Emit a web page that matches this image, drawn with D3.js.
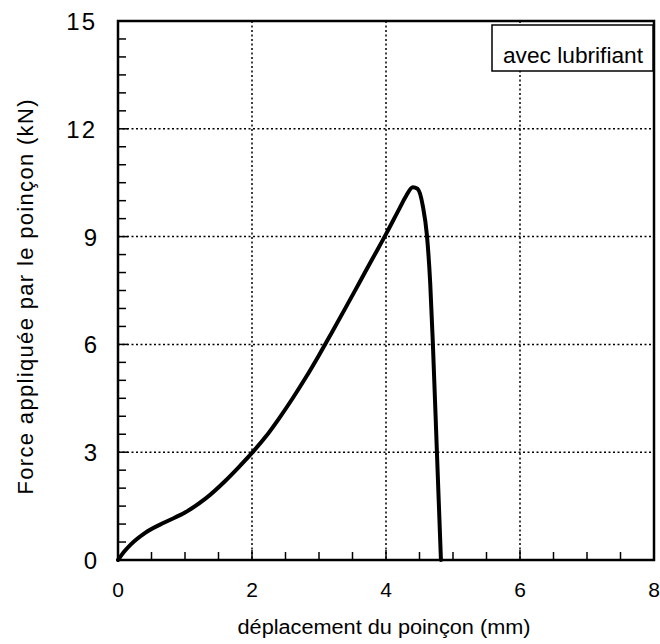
<!DOCTYPE html>
<html>
<head>
<meta charset="utf-8">
<script src="https://cdn.jsdelivr.net/npm/d3@7/dist/d3.min.js"></script>
<style>
html,body{margin:0;padding:0;background:#fff;}
svg{display:block;font-family:"Liberation Sans",Arial,Helvetica,sans-serif;}
</style>
</head>
<body>
<svg id="chart" width="660" height="644"></svg>
<script>
const dispX = [0, 0.1, 0.2, 0.4, 0.7, 1.0, 1.3, 1.6, 1.8, 2.0, 2.2, 2.4, 2.6, 2.8, 3.0, 3.2, 3.4, 3.6, 3.8, 4.0, 4.2, 4.3, 4.4, 4.47, 4.55, 4.61, 4.66, 4.70, 4.76, 4.82];
const forceY = [0, 0.25, 0.45, 0.75, 1.05, 1.32, 1.7, 2.2, 2.58, 2.98, 3.42, 3.93, 4.48, 5.07, 5.70, 6.36, 7.03, 7.71, 8.39, 9.07, 9.78, 10.13, 10.37, 10.33, 9.85, 9.05, 7.7, 6.0, 3.0, 0];
const xTicks = [0, 2, 4, 6, 8];
const yTicks = [0, 3, 6, 9, 12, 15];
const xMinor = [0.5, 1, 1.5, 2.5, 3, 3.5, 4.5, 5, 5.5, 6.5, 7, 7.5];
const yMinor = [0.5, 1, 1.5, 2, 2.5, 3.5, 4, 4.5, 5, 5.5, 6.5, 7, 7.5, 8, 8.5, 9.5, 10, 10.5, 11, 11.5, 12.5, 13, 13.5, 14, 14.5];
const xTitle = "déplacement du poinçon (mm)";
const yTitle = "Force appliquée par le poinçon (kN)";
const legendText = "avec  lubrifiant";

const svg = d3.select("#chart");
const L = 118, R = 654, T = 21, B = 560;
const x = d3.scaleLinear().domain([0, 8]).range([L, R]);
const y = d3.scaleLinear().domain([0, 15]).range([B, T]);

// gridlines
const g = svg.append("g");
g.selectAll(".gx").data(xTicks.filter(d => d > 0 && d < 8)).enter().append("line")
  .attr("x1", d => x(d)).attr("x2", d => x(d)).attr("y1", T).attr("y2", B)
  .attr("stroke", "#000").attr("stroke-width", 1.5).attr("stroke-dasharray", "2,2.5");
g.selectAll(".gy").data(yTicks.filter(d => d > 0 && d < 15)).enter().append("line")
  .attr("y1", d => y(d)).attr("y2", d => y(d)).attr("x1", L).attr("x2", R)
  .attr("stroke", "#000").attr("stroke-width", 1.5).attr("stroke-dasharray", "2,2.5");

// minor ticks
g.selectAll(".mx").data(xMinor).enter().append("line")
  .attr("x1", d => x(d)).attr("x2", d => x(d)).attr("y1", B).attr("y2", B - 8)
  .attr("stroke", "#000").attr("stroke-width", 1.5);
g.selectAll(".my").data(yMinor).enter().append("line")
  .attr("y1", d => y(d)).attr("y2", d => y(d)).attr("x1", L).attr("x2", L + 8)
  .attr("stroke", "#000").attr("stroke-width", 1.5);
// major ticks
g.selectAll(".Mx").data(xTicks.filter(d => d > 0 && d < 8)).enter().append("line")
  .attr("x1", d => x(d)).attr("x2", d => x(d)).attr("y1", B).attr("y2", B - 10)
  .attr("stroke", "#000").attr("stroke-width", 1.5);
g.selectAll(".My").data(yTicks.filter(d => d > 0 && d < 15)).enter().append("line")
  .attr("y1", d => y(d)).attr("y2", d => y(d)).attr("x1", L).attr("x2", L + 10)
  .attr("stroke", "#000").attr("stroke-width", 1.5);

// frame
svg.append("rect").attr("x", L).attr("y", T).attr("width", R - L).attr("height", B - T)
  .attr("fill", "none").attr("stroke", "#000").attr("stroke-width", 2.5);

// tick labels
svg.selectAll(".xl").data(xTicks).enter().append("text")
  .attr("x", d => x(d)).attr("y", 597).attr("text-anchor", "middle")
  .attr("font-size", 21).text(d => d);
svg.selectAll(".yl").data(yTicks).enter().append("text")
  .attr("x", 97).attr("y", d => y(d) + 9).attr("text-anchor", "end")
  .attr("font-size", 24).attr("letter-spacing", d => d >= 10 ? 2 : 0).text(d => d);

// axis titles
svg.append("text").attr("x", 384).attr("y", 634).attr("text-anchor", "middle")
  .attr("font-size", 20).attr("textLength", 293).attr("lengthAdjust", "spacingAndGlyphs")
  .text(xTitle);
svg.append("text").attr("transform", "translate(33,297) rotate(-90)")
  .attr("text-anchor", "middle").attr("font-size", 22)
  .attr("textLength", 395).attr("lengthAdjust", "spacing").text(yTitle);

// curve
const pts = dispX.map((d, i) => [d, forceY[i]]);
const line = d3.line().x(d => x(d[0])).y(d => y(d[1])).curve(d3.curveMonotoneX);
svg.append("path").attr("d", line(pts)).attr("fill", "none")
  .attr("stroke", "#000").attr("stroke-width", 4).attr("stroke-linejoin", "round").attr("stroke-linecap", "round");

// legend
svg.append("rect").attr("x", 492).attr("y", 25).attr("width", 161).attr("height", 46)
  .attr("fill", "#fff").attr("stroke", "#000").attr("stroke-width", 1.5);
svg.append("text").attr("x", 503).attr("y", 63).attr("font-size", 22)
  .attr("textLength", 140).attr("lengthAdjust", "spacingAndGlyphs").text(legendText);
</script>
</body>
</html>
